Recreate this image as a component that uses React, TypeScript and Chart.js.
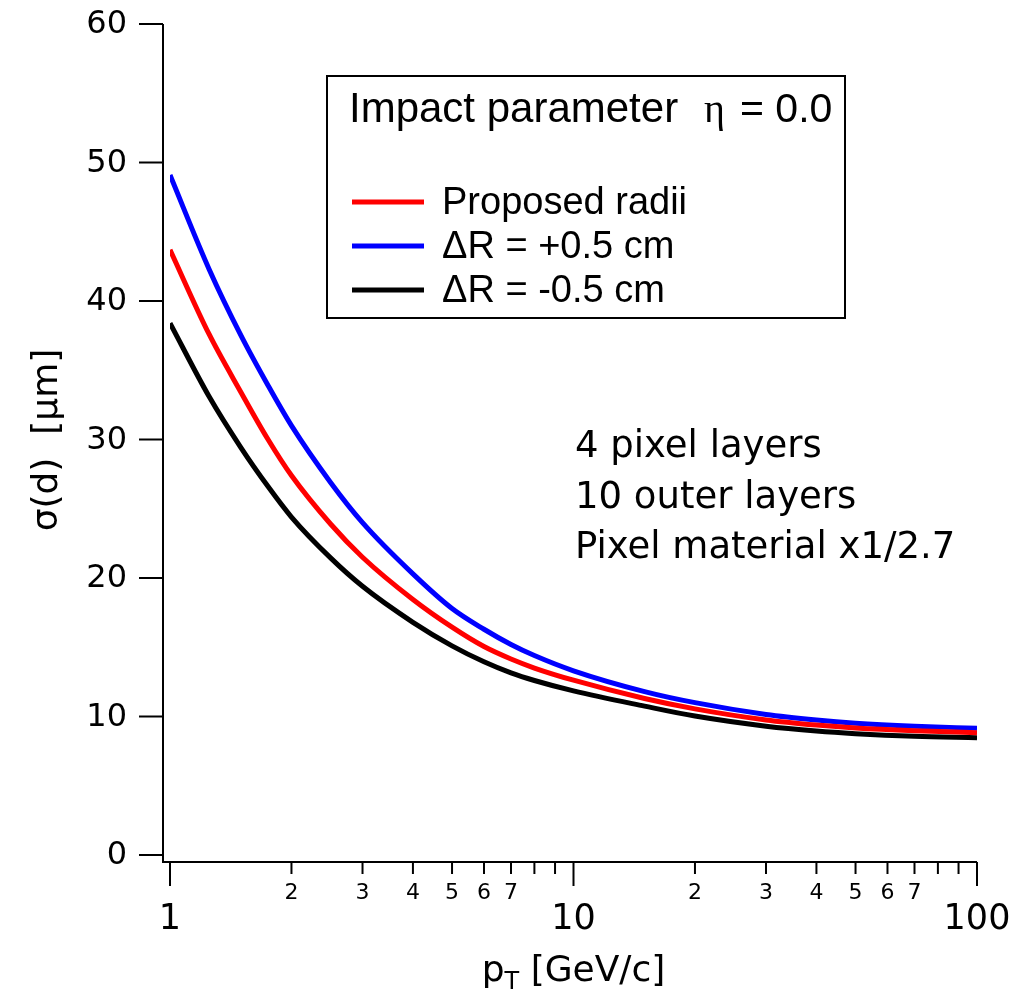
import React, { useEffect, useRef } from 'react';
import { Chart, registerables } from 'chart.js';

Chart.register(...registerables);

// ---- Data ----
const pT = [1, 1.25, 1.5, 1.75, 2, 2.5, 3, 4, 5, 6, 7, 8, 10, 15, 20, 30, 40, 50, 70, 100];
const proposedRadii = [43.7, 37.6, 33.4, 30.0, 27.4, 23.9, 21.5, 18.45, 16.45, 15.05, 14.15, 13.5, 12.62, 11.3, 10.55, 9.75, 9.38, 9.17, 8.97, 8.83];
const plusHalfCm = [49.1, 42.3, 37.5, 33.9, 31.0, 26.9, 24.0, 20.3, 17.8, 16.3, 15.2, 14.4, 13.3, 11.8, 11.0, 10.15, 9.75, 9.52, 9.3, 9.15];
const minusHalfCm = [38.4, 33.1, 29.4, 26.6, 24.4, 21.45, 19.4, 16.8, 15.1, 13.95, 13.15, 12.6, 11.85, 10.75, 10.03, 9.3, 8.95, 8.76, 8.57, 8.47];

const seriesLabels = ['Proposed radii', '\u0394R = +0.5 cm', '\u0394R = -0.5 cm'];
const seriesColors = ['#ff0000', '#0000ff', '#000000'];

const yTicks = [0, 10, 20, 30, 40, 50, 60];
const xMajorTicks = [1, 10, 100];
const xMinorTicks = [2, 3, 4, 5, 6, 7, 8, 9, 20, 30, 40, 50, 60, 70, 80, 90];
const xMinorLabeled = [2, 3, 4, 5, 6, 7, 20, 30, 40, 50, 60, 70];

const legendTitle = 'Impact parameter';
const legendEta = '\u03b7';
const legendEtaValue = '= 0.0';
const noteLines = ['4 pixel layers', '10 outer layers', 'Pixel material x1/2.7'];
const yTitle = '\u03c3(d)  [\u00b5m]';
const xTitleMain = 'p';
const xTitleSub = 'T';
const xTitleRest = ' [GeV/c]';

const SANS = '"DejaVu Sans"';
const HELV = '"Liberation Sans"';

const decorPlugin = {
  id: 'decor',
  beforeDraw(chart: any) {
    const { ctx } = chart;
    ctx.save();
    ctx.fillStyle = '#ffffff';
    ctx.fillRect(0, 0, chart.width, chart.height);
    ctx.restore();
  },
  afterDraw(chart: any) {
    const { ctx, chartArea } = chart;
    const xs = chart.scales.x;
    const ys = chart.scales.y;
    const axX = chartArea.left - 7;
    const axY = chartArea.bottom + 7;
    ctx.save();
    ctx.strokeStyle = '#000';
    ctx.fillStyle = '#000';
    ctx.lineWidth = 2;
    ctx.lineCap = 'butt';

    // axis lines
    ctx.beginPath();
    ctx.moveTo(axX, ys.getPixelForValue(yTicks[yTicks.length - 1]));
    ctx.lineTo(axX, axY);
    ctx.lineTo(xs.getPixelForValue(xMajorTicks[xMajorTicks.length - 1]), axY);
    ctx.stroke();

    // y ticks + labels
    ctx.font = `32px ${SANS}`;
    ctx.textAlign = 'right';
    ctx.textBaseline = 'middle';
    yTicks.forEach((v) => {
      const py = ys.getPixelForValue(v);
      ctx.beginPath();
      ctx.moveTo(axX - 24, py);
      ctx.lineTo(axX, py);
      ctx.stroke();
      ctx.fillText(String(v), axX - 36, py + 1);
    });

    // x ticks
    ctx.textAlign = 'center';
    xMajorTicks.forEach((v) => {
      const px = xs.getPixelForValue(v);
      ctx.beginPath();
      ctx.moveTo(px, axY);
      ctx.lineTo(px, axY + 24);
      ctx.stroke();
    });
    xMinorTicks.forEach((v) => {
      const px = xs.getPixelForValue(v);
      ctx.beginPath();
      ctx.moveTo(px, axY);
      ctx.lineTo(px, axY + 12);
      ctx.stroke();
    });
    ctx.font = `22px ${SANS}`;
    xMinorLabeled.forEach((v) => {
      const px = xs.getPixelForValue(v);
      const lbl = String(v).charAt(0);
      ctx.fillText(lbl, px, axY + 31);
    });
    ctx.font = `35px ${SANS}`;
    xMajorTicks.forEach((v) => {
      const px = xs.getPixelForValue(v);
      ctx.fillText(String(v), px, axY + 58);
    });

    // x title
    const cx = (chartArea.left + chartArea.right) / 2;
    ctx.textBaseline = 'alphabetic';
    ctx.textAlign = 'left';
    ctx.font = `36px ${SANS}`;
    const w1 = ctx.measureText(xTitleMain).width;
    const w3 = ctx.measureText(xTitleRest).width;
    ctx.font = `24px ${SANS}`;
    const w2 = ctx.measureText(xTitleSub).width;
    let sx = cx - (w1 + w2 + w3) / 2;
    const base = 981;
    ctx.font = `36px ${SANS}`;
    ctx.fillText(xTitleMain, sx, base);
    sx += w1;
    ctx.font = `24px ${SANS}`;
    ctx.fillText(xTitleSub, sx, base + 8);
    sx += w2;
    ctx.font = `36px ${SANS}`;
    ctx.fillText(xTitleRest, sx, base);

    // y title
    ctx.save();
    ctx.translate(57, 440);
    ctx.rotate(-Math.PI / 2);
    ctx.textAlign = 'center';
    ctx.font = `36px ${SANS}`;
    ctx.fillText(yTitle, 0, 0);
    ctx.restore();

    // legend box
    const bx = 327, by = 76, bw = 518, bh = 242;
    ctx.lineWidth = 2;
    ctx.fillStyle = '#fff';
    ctx.fillRect(bx, by, bw, bh);
    ctx.strokeRect(bx, by, bw, bh);
    ctx.fillStyle = '#000';
    ctx.textAlign = 'left';
    ctx.font = `42px ${HELV}`;
    ctx.fillText(legendTitle, 349, 122);
    ctx.font = `40px "Liberation Serif"`;
    ctx.fillText(legendEta, 704, 122);
    ctx.font = `41px ${HELV}`;
    ctx.fillText(legendEtaValue, 740, 122);

    ctx.font = `38px ${HELV}`;
    chart.data.datasets.forEach((ds: any, i: number) => {
      const b = 214 + i * 44;
      ctx.strokeStyle = ds.borderColor;
      ctx.lineWidth = 5;
      ctx.beginPath();
      ctx.moveTo(352, b - 12);
      ctx.lineTo(424, b - 12);
      ctx.stroke();
      ctx.fillText(ds.label, 442, b);
    });

    // annotation
    ctx.font = `37px ${SANS}`;
    noteLines.forEach((t, i) => {
      ctx.fillText(t, 575, 457 + i * 50.5);
    });
    ctx.restore();
  },
};

export default function App() {
  const ref = useRef<HTMLCanvasElement>(null);
  useEffect(() => {
    if (!ref.current) return;
    const seriesValues = [proposedRadii, plusHalfCm, minusHalfCm];
    const chart = new Chart(ref.current, {
      type: 'line',
      data: {
        datasets: seriesValues.map((vals, i) => ({
          label: seriesLabels[i],
          data: pT.map((p, j) => ({ x: p, y: vals[j] })),
          borderColor: seriesColors[i],
          backgroundColor: seriesColors[i],
          borderWidth: 5,
          pointRadius: 0,
          cubicInterpolationMode: 'monotone' as const,
          fill: false,
        })),
      },
      options: {
        responsive: false,
        animation: false,
        devicePixelRatio: 1,
        layout: { padding: { left: 170, right: 53, top: 24, bottom: 142 } },
        plugins: { legend: { display: false }, tooltip: { enabled: false } },
        scales: {
          x: { type: 'logarithmic', min: 1, max: 100, display: false },
          y: { type: 'linear', min: 0, max: 60, display: false },
        },
      },
      plugins: [decorPlugin],
    });
    return () => chart.destroy();
  }, []);
  return (
    <canvas
      ref={ref}
      width={1030}
      height={997}
      style={{ position: 'absolute', left: 0, top: 0, width: 1030, height: 997 }}
    />
  );
}
